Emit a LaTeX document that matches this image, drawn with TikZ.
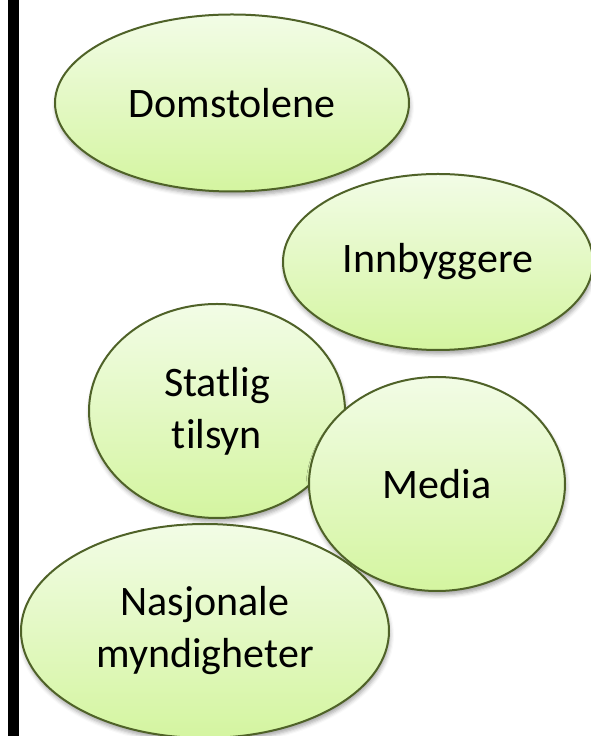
\documentclass[tikz,border=0pt]{standalone}
\usepackage{fontspec}
\setmainfont{Carlito}[Ligatures=NoCommon]
\usetikzlibrary{shapes.geometric,shadows.blur}
\definecolor{ovalline}{HTML}{4F6228}
\definecolor{ovaltop}{HTML}{F2FCE6}
\definecolor{ovalbottom}{HTML}{D4F5A0}

\begin{document}
\begin{tikzpicture}[x=1pt, y=1pt, line width=2pt,
  oval/.style={ellipse, draw=ovalline, top color=ovaltop, bottom color=ovalbottom,
    inner sep=0pt, align=center, font=\fontsize{42}{52}\selectfont,
    blur shadow={shadow xshift=1pt, shadow yshift=-4pt, shadow blur radius=4pt, shadow opacity=35}}]
  \useasboundingbox (0,0) rectangle (591,736);
  \fill[black] (8,0) rectangle (19,736);

  \node[oval, minimum width=354pt, minimum height=177pt] (courts) at (232,633) {Domstolene};
  \node[oval, minimum width=310pt, minimum height=176pt] (citizens) at (438,474) {Innbyggere};
  \node[oval, minimum width=256pt, minimum height=214pt] (supervision) at (217,325) {Statlig\\tilsyn};
  \node[oval, minimum width=256pt, minimum height=214pt] (media) at (437,252) {Media};
  \node[oval, minimum width=368pt, minimum height=214pt] (national) at (205,105) {Nasjonale\\myndigheter};
\end{tikzpicture}
\end{document}
